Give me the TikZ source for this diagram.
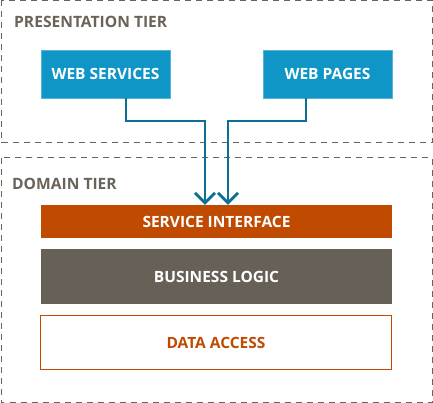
\documentclass[tikz,border=0pt]{standalone}
\usepackage{fontspec}
\setmainfont{Open Sans}
\usetikzlibrary{arrows.meta}
\definecolor{tiergrey}{HTML}{6B635A}
\definecolor{webblue}{HTML}{0F96C6}
\definecolor{linkblue}{HTML}{0E6F94}
\definecolor{rust}{HTML}{C04A00}
\definecolor{logicgrey}{HTML}{676057}
\tikzset{
  tier/.style={draw=tiergrey, line width=1pt, dash pattern=on 6pt off 5pt},
  tierlabel/.style={anchor=base west, text=tiergrey, font=\fontsize{15.6}{15.6}\selectfont\bfseries, inner sep=0pt},
  webbox/.style={fill=webblue, draw=webblue!70!white, text=white, minimum width=129pt, minimum height=48pt, font=\fontsize{15.5}{15.5}\selectfont\bfseries},
  layer/.style={minimum width=351pt, font=\fontsize{15.5}{15.5}\selectfont\bfseries},
  link/.style={draw=linkblue, line width=2.8pt, -{Straight Barb[length=10pt, width=20pt, line width=2.8pt]}}
}
\begin{document}
\begin{tikzpicture}[x=1pt, y=-1pt]
\useasboundingbox (0,0) rectangle (433,403);
		% the two tiers
		\draw [tier] (1,0.5) rectangle (432,143);
		\draw [tier] (1,158) rectangle (432,402.5);
		\node [tierlabel] (ptier) at (14,28) {PRESENTATION TIER};
		\node [tierlabel] (dtier) at (12,190) {DOMAIN TIER};
		% presentation nodes
		\node [webbox] (services) at (105.5,74) {WEB SERVICES};
		\node [webbox] (pages) at (327.5,74) {WEB PAGES};
		% domain layers
		\node [layer, fill=rust, text=white, minimum height=33pt] (iface) at (216.5,221.5) {SERVICE INTERFACE};
		\node [layer, fill=logicgrey, text=white, minimum height=55pt] (logic) at (216.5,276.5) {BUSINESS LOGIC};
		\node [layer, draw=rust, line width=1.2pt, text=rust, minimum height=54pt] (access) at (216,342.5) {DATA ACCESS};
		% calls into the service interface
		\draw [link] ([xshift=20.5pt]services.south) |- (205,121) -- ([xshift=-11.5pt]iface.north);
		\draw [link] ([xshift=-21.5pt]pages.south) |- (228,121) -- ([xshift=11.5pt]iface.north);
\end{tikzpicture}
\end{document}
